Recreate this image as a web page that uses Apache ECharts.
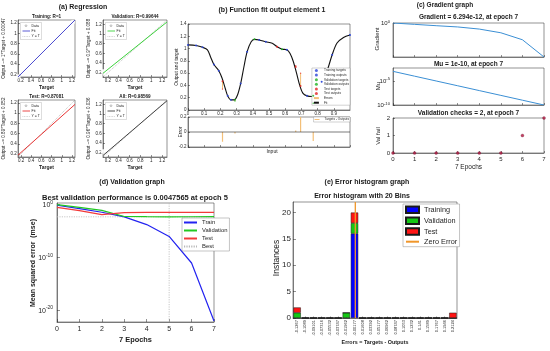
<!DOCTYPE html>
<html><head><meta charset="utf-8">
<script src="https://cdn.jsdelivr.net/npm/echarts@6/dist/echarts.min.js"></script>
<style>html,body{margin:0;padding:0;background:#fff}#c{width:550px;height:351px}</style>
</head><body><div id="c"></div>
<script>
// ---------------- data ----------------
// (b) function fit: network output curve over the input
const curveX = [0, 0.05, 0.09, 0.12, 0.14, 0.16, 0.19, 0.21, 0.23, 0.245, 0.265, 0.285, 0.305, 0.325, 0.345, 0.365, 0.39, 0.41, 0.44, 0.48, 0.52, 0.55, 0.58, 0.61, 0.63, 0.65, 0.67, 0.69, 0.71, 0.735, 0.765, 0.785, 0.805, 0.83, 0.86, 0.89, 0.92, 0.96, 1.0];
const curveY = [1.06, 1.05, 1.02, 0.98, 0.86, 0.74, 0.64, 0.52, 0.35, 0.23, 0.165, 0.165, 0.24, 0.43, 0.70, 0.95, 1.11, 1.15, 1.14, 1.11, 1.085, 1.03, 0.99, 0.98, 0.92, 0.79, 0.60, 0.40, 0.27, 0.23, 0.22, 0.23, 0.33, 0.49, 0.65, 0.90, 1.09, 1.18, 1.22];
// samples (input, target, output)
const trainIn = [0, 0.05, 0.09, 0.16, 0.19, 0.245, 0.265, 0.325, 0.365, 0.44, 0.48, 0.61, 0.735, 0.825, 0.89, 1.0];
const trainTarget = [1.06, 1.05, 1.02, 0.74, 0.64, 0.23, 0.165, 0.43, 0.95, 1.14, 1.11, 0.98, 0.23, 0.46, 0.90, 1.22];
const trainOutput = [1.06, 1.05, 1.02, 0.74, 0.64, 0.23, 0.165, 0.43, 0.95, 1.14, 1.11, 0.98, 0.23, 0.46, 0.90, 1.22];
const valIn = [0.29, 0.41, 0.58, 0.773];
const valTarget = [0.145, 1.15, 0.99, 0.11];
const valOutput = [0.165, 1.15, 0.99, 0.23];
const testIn = [0.213, 0.55, 0.665, 0.695];
const testTarget = [0.34, 1.03, 0.72, 0.60];
const testOutput = [0.47, 1.03, 0.70, 0.39];

// (a) regression
const regTitles = ['Training: R=1', 'Validation: R=0.99644', 'Test: R=0.87081', 'All: R=0.98569'];
const regYLabels = ['Output ~= 1*Target + 0.00047', 'Output ~= 0.9*Target + 0.088', 'Output ~= 0.89*Target + 0.052', 'Output ~= 0.96*Target + 0.036'];
const regSlope = [1, 0.9, 0.89, 0.96];
const regIntercept = [0.00047, 0.088, 0.052, 0.036];
const regTicks = [0.2, 0.4, 0.6, 0.8, 1, 1.2];

// (c) training state
const epochs = [0, 1, 2, 3, 4, 5, 6, 7];
const gradient = [1, 0.36, 0.13, 0.05, 0.01, 6e-4, 3e-6, 6.294e-12];
const mu = [1e-3, 1e-4, 1e-5, 1e-6, 1e-7, 1e-8, 1e-9, 1e-10];
const valFail = [0, 0, 0, 0, 0, 0, 1, 2];

// (d) performance
const perfTrain = [0.74, 0.17, 0.035, 0.0045, 1.6e-4, 9e-7, 8e-12, 8e-23];
const perfVal = [1.0, 0.3, 0.08, 0.0055, 0.0050, 0.0047565, 0.0049, 0.0051];
const perfTest = [0.3, 0.07, 0.012, 0.030, 0.033, 0.034, 0.034, 0.034];
const bestEpoch = 5;
const bestPerf = 0.0047565;
const perfTicks = [1e-20, 1e-10, 1];

// (e) error histogram
const binLabels = ['-0.1267', '-0.1089', '-0.09101', '-0.07316', '-0.05532', '-0.03747', '-0.01962', '-0.00177', '0.01608', '0.03392', '0.05177', '0.06962', '0.08747', '0.1053', '0.1232', '0.141', '0.1589', '0.1767', '0.1946', '0.2124'];
const histTrain = [0, 0, 0, 0, 0, 0, 0, 16, 0, 0, 0, 0, 0, 0, 0, 0, 0, 0, 0, 0];
const histVal   = [1, 0, 0, 0, 0, 0, 1, 2, 0, 0, 0, 0, 0, 0, 0, 0, 0, 0, 0, 0];
const histTest  = [1, 0, 0, 0, 0, 0, 0, 2, 0, 0, 0, 0, 0, 0, 0, 0, 0, 0, 0, 1];
const histCountTicks = [0, 5, 10, 15, 20];
const binStep = 0.017848;

// ---------------- styling / layout ----------------
const F = '"Liberation Sans", Arial, Helvetica, sans-serif';
const INK = '#262626';

const gridBoxes = [
  [18, 20, 57, 57], [103, 20, 64, 57], [18, 100, 57, 57], [103, 100, 64, 57],
  [188, 24, 162, 86], [188, 117, 162, 30],
  [393, 23, 151, 34], [393, 68, 151, 37], [393, 118, 151, 35],
  [57, 203, 157, 119],
  [293, 202, 164, 116]
];
const grids = gridBoxes.map(b => ({left: b[0], top: b[1], width: b[2], height: b[3], show: true,
  borderColor: INK, borderWidth: 0.5, backgroundColor: '#fff', containLabel: false, outerBoundsMode: 'none'}));

function axis(gi, o) {
  const base = {
    gridIndex: gi, type: 'value',
    axisLine: {show: true, onZero: false, lineStyle: {color: INK, width: 0.5}},
    axisTick: {show: true, inside: true, length: 2, lineStyle: {color: INK, width: 0.5}},
    axisLabel: {show: true, color: INK, fontFamily: F, fontSize: 4.5, margin: 2},
    splitLine: {show: false}
  };
  const r = Object.assign({}, base, o);
  ['axisLine', 'axisTick', 'axisLabel'].forEach(k => { r[k] = Object.assign({}, base[k], o[k] || {}); });
  return r;
}
function powRich(size) {
  return {b: {fontSize: size, fontFamily: F, color: INK, verticalAlign: 'bottom'},
          s: {fontSize: size * 0.7, fontFamily: F, color: INK, verticalAlign: 'top', padding: [0, 0, size * 0.55, 0]}};
}
function powFmt(v) { return '{b|10}{s|' + Math.round(Math.log10(v)) + '}'; }

const regRange = [[0.15, 1.26], [0.11, 1.29], [0.14, 1.26], [0.11, 1.29]];
const regColors = ['#4a4ad0', '#3cd23c', '#e83434', '#404040'];
const regSets = [
  [trainTarget, trainOutput], [valTarget, valOutput], [testTarget, testOutput],
  [trainTarget.concat(valTarget, testTarget), trainOutput.concat(valOutput, testOutput)]
];

const xAxes = [], yAxes = [], series = [];
for (let i = 0; i < 4; i++) {
  const [lo, hi] = regRange[i];
  const tk = {customValues: regTicks};
  xAxes.push(axis(i, {min: lo, max: hi, axisTick: tk, axisLabel: {customValues: regTicks, margin: 1.7}}));
  yAxes.push(axis(i, {min: lo, max: hi, axisTick: tk, axisLabel: {customValues: regTicks, margin: 1.2}}));
  series.push({type: 'line', name: 'yt' + i, xAxisIndex: i, yAxisIndex: i, data: [[lo, lo], [hi, hi]], symbol: 'none',
    lineStyle: {color: '#9a9a9a', width: 0.6, type: [1, 1]}, silent: true});
  series.push({type: 'line', name: 'fit' + i, xAxisIndex: i, yAxisIndex: i,
    data: [[lo, regSlope[i] * lo + regIntercept[i]], [hi, regSlope[i] * hi + regIntercept[i]]],
    symbol: 'none', lineStyle: {color: regColors[i], width: 1}, silent: true});
  series.push({type: 'scatter', name: 'data' + i, xAxisIndex: i, yAxisIndex: i,
    data: regSets[i][0].map((t, k) => [t, regSets[i][1][k]]), symbol: 'emptyCircle', symbolSize: 2.6,
    itemStyle: {color: '#fff', borderColor: '#6a6a6a', borderWidth: 0.4}, silent: true});
}
// (b)
xAxes.push(axis(4, {min: 0, max: 1, interval: 0.1, axisLabel: {margin: 1.5, showMaxLabel: false}}));
yAxes.push(axis(4, {min: 0, max: 1.4, interval: 0.2, axisLabel: {margin: 1.5}}));
xAxes.push(axis(5, {min: 0, max: 1, interval: 0.1, axisLabel: {show: false}}));
yAxes.push(axis(5, {min: -0.2, max: 0.2, interval: 0.2, axisLabel: {margin: 1.5}}));
// (c)
xAxes.push(axis(6, {min: 0, max: 7, interval: 1, axisLabel: {show: false}}));
yAxes.push(axis(6, {type: 'log', logBase: 10, min: 6.294e-12, max: 1, axisTick: {customValues: [1]},
  axisLabel: {customValues: [1], formatter: powFmt, rich: powRich(6), margin: 3}}));
xAxes.push(axis(7, {min: 0, max: 7, interval: 1, axisLabel: {show: false}}));
yAxes.push(axis(7, {type: 'log', logBase: 10, min: 1e-10, max: 5e-3, axisTick: {customValues: [1e-10, 1e-5]},
  axisLabel: {customValues: [1e-10, 1e-5], formatter: powFmt, rich: powRich(6), margin: 3}}));
xAxes.push(axis(8, {min: 0, max: 7, interval: 1, axisLabel: {fontSize: 6, margin: 3}}));
yAxes.push(axis(8, {min: 0, max: 2, interval: 1, axisLabel: {fontSize: 6, margin: 3}}));
// (d)
xAxes.push(axis(9, {min: 0, max: 7, interval: 1, axisLabel: {fontSize: 7, margin: 3.5}, axisTick: {length: 3}}));
yAxes.push(axis(9, {type: 'log', logBase: 10, min: 5e-23, max: 2, axisTick: {customValues: perfTicks, length: 3},
  axisLabel: {customValues: perfTicks, formatter: powFmt, rich: powRich(7), margin: 4}}));
// (e)
xAxes.push(axis(10, {type: 'category', data: binLabels, boundaryGap: true,
  axisTick: {alignWithLabel: true, length: 1.5},
  axisLabel: {rotate: 90, fontSize: 4, margin: 2, interval: 0}}));
yAxes.push(axis(10, {min: 0, max: 22, axisTick: {customValues: histCountTicks, length: 3},
  axisLabel: {customValues: histCountTicks, fontSize: 8, margin: 2}}));
xAxes.push({gridIndex: 10, type: 'value', show: false,
  min: Number(binLabels[0]) - binStep / 2, max: Number(binLabels[19]) + binStep / 2});

// (b) series
const BLUE = '#2b45d8', GREEN = '#21b321', RED = '#e32424', ERR = '#f3bf78';
series.push({type: 'line', name: 'Fit', xAxisIndex: 4, yAxisIndex: 4, data: curveX.map((x, k) => [x, curveY[k]]),
  symbol: 'none', smooth: 0.3, lineStyle: {color: '#111', width: 1.1}, z: 3});
const sets = [['Training', trainIn, trainTarget, trainOutput, BLUE], ['Validation', valIn, valTarget, valOutput, GREEN], ['Test', testIn, testTarget, testOutput, RED]];
sets.forEach(([nm, xs, ts, os, col]) => {
  xs.forEach((x, k) => {
    series.push({type: 'line', name: 'Errors', xAxisIndex: 4, yAxisIndex: 4, data: [[x, ts[k]], [x, os[k]]],
      symbol: 'none', lineStyle: {color: ERR, width: 1}, z: 2});
  });
});
sets.forEach(([nm, xs, ts, os, col]) => {
  series.push({type: 'scatter', name: nm + ' targets', xAxisIndex: 4, yAxisIndex: 4, data: xs.map((x, k) => [x, ts[k]]),
    symbol: 'circle', symbolSize: 1.4, itemStyle: {color: col}, z: 4});
  series.push({type: 'scatter', name: nm + ' outputs', xAxisIndex: 4, yAxisIndex: 4, data: xs.map((x, k) => [x, os[k]]),
    symbol: 'circle', symbolSize: 2, itemStyle: {color: col}, z: 4});
});
const allIn = trainIn.concat(valIn, testIn);
const allOut = trainOutput.concat(valOutput, testOutput);
const allErr = trainTarget.concat(valTarget, testTarget).map((t, k) => t - allOut[k]);
series.push({type: 'line', name: 'zeroErr', xAxisIndex: 5, yAxisIndex: 5, data: [[0, 0], [1, 0]], symbol: 'none',
  lineStyle: {color: '#222', width: 0.6}, silent: true});
series.push({type: 'bar', name: 'Targets - Outputs', xAxisIndex: 5, yAxisIndex: 5, data: allIn.map((x, k) => [x, allErr[k]]),
  barWidth: 1.2, itemStyle: {color: ERR}});
// (c) series
const CBLUE = '#3b8fd4';
series.push({type: 'line', name: 'gradient', xAxisIndex: 6, yAxisIndex: 6, data: epochs.map((e, k) => [e, gradient[k]]),
  symbol: 'none', lineStyle: {color: CBLUE, width: 1}});
series.push({type: 'line', name: 'mu', xAxisIndex: 7, yAxisIndex: 7, data: epochs.map((e, k) => [e, mu[k]]),
  symbol: 'none', lineStyle: {color: CBLUE, width: 1}});
series.push({type: 'scatter', name: 'valfail', xAxisIndex: 8, yAxisIndex: 8, data: epochs.map((e, k) => [e, valFail[k]]),
  symbol: 'circle', symbolSize: 3, itemStyle: {color: '#b3143f', borderColor: '#5a0a20', borderWidth: 0.3}});
// (d) series
series.push({type: 'line', name: 'Best', xAxisIndex: 9, yAxisIndex: 9, data: [[0, bestPerf], [7, bestPerf]], symbol: 'none',
  lineStyle: {color: '#b8b8b8', width: 0.8, type: [1.2, 1.2]}});
series.push({type: 'line', name: 'Best', xAxisIndex: 9, yAxisIndex: 9, data: [[bestEpoch, 5e-23], [bestEpoch, 2]], symbol: 'none',
  lineStyle: {color: '#b8b8b8', width: 0.8, type: [1.2, 1.2]}});
series.push({type: 'line', name: 'Train', xAxisIndex: 9, yAxisIndex: 9, data: epochs.map((e, k) => [e, perfTrain[k]]),
  symbol: 'none', lineStyle: {color: '#2323f0', width: 1.2}});
series.push({type: 'line', name: 'Validation', xAxisIndex: 9, yAxisIndex: 9, data: epochs.map((e, k) => [e, perfVal[k]]),
  symbol: 'none', lineStyle: {color: '#22c822', width: 1.2}});
series.push({type: 'line', name: 'Test', xAxisIndex: 9, yAxisIndex: 9, data: epochs.map((e, k) => [e, perfTest[k]]),
  symbol: 'none', lineStyle: {color: '#f23a3a', width: 1.2}});
series.push({type: 'scatter', name: 'bestPoint', xAxisIndex: 9, yAxisIndex: 9, data: [[bestEpoch, bestPerf]],
  symbol: 'emptyCircle', symbolSize: 7, itemStyle: {color: 'rgba(0,0,0,0)', borderColor: '#1f9a1f', borderWidth: 0.8}});
// (e) series
const barStyle = c => ({color: c, borderColor: '#1a1a1a', borderWidth: 0.5});
series.push({type: 'bar', name: 'Training', xAxisIndex: 10, yAxisIndex: 10, stack: 'h', data: histTrain, barCategoryGap: '10%', itemStyle: barStyle('#0000ff')});
series.push({type: 'bar', name: 'Validation ', xAxisIndex: 10, yAxisIndex: 10, stack: 'h', data: histVal, barCategoryGap: '10%', itemStyle: barStyle('#14c814')});
series.push({type: 'bar', name: 'Test ', xAxisIndex: 10, yAxisIndex: 10, stack: 'h', data: histTest, barCategoryGap: '10%', itemStyle: barStyle('#ff1414')});
series.push({type: 'line', name: 'Zero Error', xAxisIndex: 11, yAxisIndex: 10, data: [[0, 0], [0, 22]], symbol: 'none',
  lineStyle: {color: '#f0962a', width: 1.3}, z: 5});

// ---------------- texts ----------------
function txt(x, y, text, size, bold, rot, align) {
  return {type: 'text', x: x, y: y, rotation: rot || 0, z: 20,
    style: {text: text, fontSize: size, fontWeight: bold ? 'bold' : 'normal', fontFamily: F, fill: '#1a1a1a',
      align: align || 'center', verticalAlign: 'middle', textAlign: align || 'center', textVerticalAlign: 'middle'}};
}
const R90 = Math.PI / 2;
const g = [];
g.push(txt(83, 7, '(a) Regression', 7, true));
for (let i = 0; i < 4; i++) {
  const b = gridBoxes[i];
  const cx = b[0] + b[2] / 2, cy = b[1] + b[3] / 2;
  g.push(txt(cx, b[1] - 3.5, regTitles[i], 4.6, true));
  g.push(txt(cx, b[1] + b[3] + 10.5, 'Target', 5, true));
  g.push(txt(b[0] - 14.5, cy, regYLabels[i], 4.6, false, R90));
  // legend box
  const lx = b[0] + 2.5, ly = b[1] + 2.5;
  g.push({type: 'rect', z: 15, shape: {x: lx, y: ly, width: 21, height: 17}, style: {fill: '#fff', stroke: '#a8a8a8', lineWidth: 0.4}});
  g.push({type: 'circle', z: 16, shape: {cx: lx + 5.5, cy: ly + 3.2, r: 0.9}, style: {fill: '#fff', stroke: '#666', lineWidth: 0.4}});
  g.push({type: 'line', z: 16, shape: {x1: lx + 2, y1: ly + 8.5, x2: lx + 9.5, y2: ly + 8.5}, style: {stroke: regColors[i], lineWidth: 0.9}});
  g.push({type: 'line', z: 16, shape: {x1: lx + 2, y1: ly + 14, x2: lx + 9.5, y2: ly + 14}, style: {stroke: '#999', lineWidth: 0.5, lineDash: [0.8, 0.8]}});
  g.push(txt(lx + 11, ly + 3.2, 'Data', 3.5, false, 0, 'left'));
  g.push(txt(lx + 11, ly + 8.5, 'Fit', 3.5, false, 0, 'left'));
  g.push(txt(lx + 11, ly + 14, 'Y = T', 3.5, false, 0, 'left'));
}
g.push(txt(272, 10, '(b) Function fit output element 1', 7, true));
g.push(txt(177, 67, 'Output and target', 4.8, false, R90));
g.push(txt(180.5, 132, 'Error', 5, false, R90));
g.push(txt(272, 152, 'Input', 5));
g.push(txt(445, 5, '(c) Gradient graph', 6.5, true));
g.push(txt(468.5, 17, 'Gradient = 6.294e-12, at epoch 7', 6.5, true));
g.push(txt(468.5, 64, 'Mu = 1e-10, at epoch 7', 6.5, true));
g.push(txt(468.5, 113.5, 'Validation checks = 2, at epoch 7', 6.5, true));
g.push(txt(377, 39, 'Gradient', 6, false, R90));
g.push(txt(378, 86, 'Mu', 6, false, R90));
g.push(txt(378, 136, 'Val fail', 6, false, R90));
g.push(txt(468.5, 167, '7 Epochs', 6.5));
g.push(txt(132, 182, '(d) Validation graph', 7, true));
g.push(txt(135, 198, 'Best validation performance is 0.0047565 at epoch 5', 7.5, true));
g.push(txt(33, 263, 'Mean squared error  (mse)', 7, true, R90));
g.push(txt(135.5, 339.5, '7 Epochs', 7.4, true));
g.push(txt(367, 182, '(e) Error histogram graph', 7, true));
g.push(txt(362, 196, 'Error histogram with 20 Bins', 7, true));
g.push(txt(277, 258, 'Instances', 8.5, false, R90));
g.push(txt(375, 343, 'Errors = Targets - Outputs', 5.4, true));

// legend entries for line series: hide the symbol, keep the line
const lineItem = n => ({name: n, itemStyle: {opacity: 0}});
const legBase = {orient: 'vertical', selectedMode: false, backgroundColor: '#fff', borderColor: '#8a8a8a', borderWidth: 0.5};
const option = {
  animation: false,
  backgroundColor: '#fff',
  grid: grids, xAxis: xAxes, yAxis: yAxes, series: series,
  graphic: {elements: g},
  legend: [
    Object.assign({}, legBase, {data: ['Training targets', 'Training outputs', 'Validation targets', 'Validation outputs', 'Test targets', 'Test outputs', lineItem('Errors'), lineItem('Fit')],
      right: 200, top: 68, itemWidth: 5, itemHeight: 3, itemGap: 1.6, padding: [1, 1, 1, 1], borderWidth: 0.4,
      textStyle: {fontSize: 3.2, fontFamily: F, color: INK}}),
    Object.assign({}, legBase, {data: ['Targets - Outputs'], right: 200, top: 117, itemWidth: 5, itemHeight: 1, padding: [1, 1, 1, 1], borderWidth: 0.4,
      textStyle: {fontSize: 3.2, fontFamily: F, color: INK}}),
    Object.assign({}, legBase, {data: [lineItem('Train'), lineItem('Validation'), lineItem('Test'), lineItem('Best')], left: 182, top: 218, itemWidth: 13, itemHeight: 6, itemGap: 2,
      padding: [1.5, 2, 1.5, 1], textStyle: {fontSize: 5.9, fontFamily: F, color: INK}}),
    Object.assign({}, legBase, {data: [{name: 'Training', icon: 'rect'}, {name: 'Validation ', icon: 'rect'}, {name: 'Test ', icon: 'rect'}, lineItem('Zero Error')],
      left: 403, top: 204, itemWidth: 13, itemHeight: 6.5, itemGap: 2.4, padding: [1.5, 2, 1.5, 2], textStyle: {fontSize: 7.3, fontFamily: F, color: INK}})
  ]
};
const chart = echarts.init(document.getElementById('c'), null, {renderer: 'canvas'});
chart.setOption(option);
</script>
</body></html>
